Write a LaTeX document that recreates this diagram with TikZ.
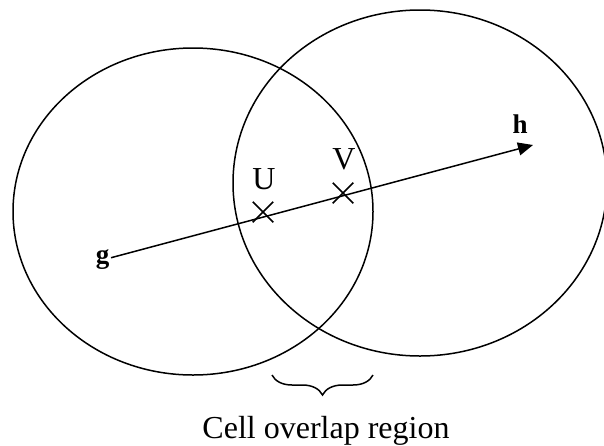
\documentclass[tikz,border=0pt]{standalone}
\usepackage{fontspec}
\setmainfont{Liberation Serif}
\usetikzlibrary{arrows.meta,positioning,shapes.misc,decorations.pathreplacing}

\begin{document}
\begin{tikzpicture}[x=1pt,y=-1pt,line width=1.5pt,>={Triangle[length=15pt,width=13pt]},
  lbl/.style={inner sep=0pt,font=\fontsize{32}{36}\selectfont},
  pt/.style={inner sep=1pt,font=\bfseries\fontsize{27}{30}\selectfont},
  xmark/.style={draw,cross out,minimum size=19pt,inner sep=0pt}]
\useasboundingbox (0,0) rectangle (604,445);
% the two cells
\draw (193,211.5) ellipse [x radius=180pt,y radius=163.5pt];
\draw (420,183) ellipse [x radius=187pt,y radius=173pt];
% path from g towards h
\coordinate (tip) at (533,145);
\node[pt,anchor=east] (g) at (111,260) {g};
\node[pt] (h) at (520,124) {h};
\draw[->] (g) -- (tip);
\node[xmark] (ux) at (263,212) {};
\node[xmark] (vx) at (343,193) {};
\node[lbl] (u) at (264,179) {U};
\node[lbl] (v) at (344,159) {V};
% overlap brace
\draw[decorate,decoration={brace,amplitude=20pt}] (373,375) -- (272,375);
\node[lbl,anchor=base] (cap) at (326,438) {Cell overlap region};
\end{tikzpicture}
\end{document}
